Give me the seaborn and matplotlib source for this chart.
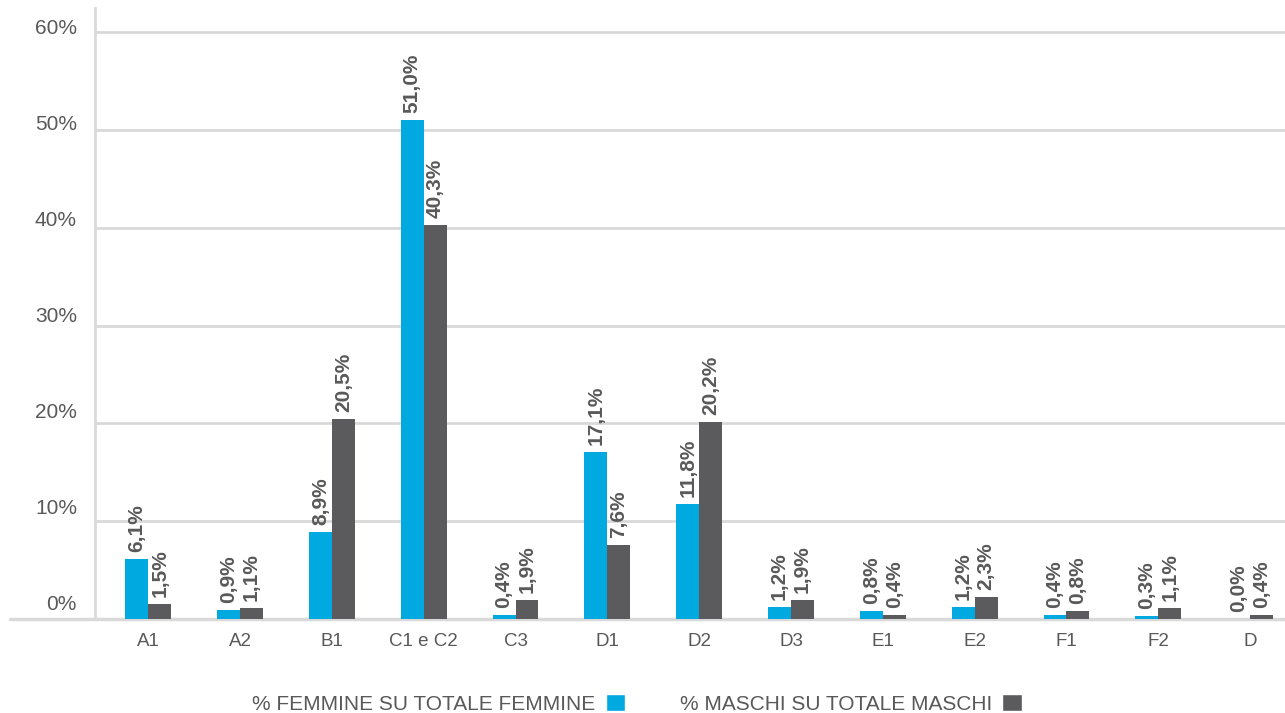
import matplotlib
matplotlib.use("Agg")
import matplotlib.pyplot as plt
import matplotlib.transforms as mtransforms
import seaborn as sns
import pandas as pd
from matplotlib.patches import Patch

categories = ["A1", "A2", "B1", "C1 e C2", "C3", "D1", "D2", "D3", "E1", "E2", "F1", "F2", "D"]
femmine = [6.1, 0.9, 8.9, 51.0, 0.4, 17.1, 11.8, 1.2, 0.8, 1.2, 0.4, 0.3, 0.0]
maschi = [1.5, 1.1, 20.5, 40.3, 1.9, 7.6, 20.2, 1.9, 0.4, 2.3, 0.8, 1.1, 0.4]
series_names = ["% FEMMINE SU TOTALE FEMMINE", "% MASCHI SU TOTALE MASCHI"]
y_ticks = [0, 10, 20, 30, 40, 50, 60]

BLUE = "#00A9E0"
GREY = "#5B5B5E"
TEXT = "#595959"
GRID = "#D9D9D9"

sns.set_theme(style="white")
plt.rcParams["font.family"] = ["Liberation Sans", "DejaVu Sans"]

df = pd.DataFrame({
    "cat": categories * 2,
    "val": femmine + maschi,
    "serie": [series_names[0]] * len(categories) + [series_names[1]] * len(categories),
})

fig = plt.figure(figsize=(12.85, 7.13), dpi=100)
ax = fig.add_axes([95 / 1285, 94 / 713, 1 - 95 / 1285, 611 / 713])

sns.barplot(data=df, x="cat", y="val", hue="serie", order=categories,
            hue_order=series_names, palette=[BLUE, GREY], width=0.5,
            saturation=1, legend=False, ax=ax, errorbar=None, linewidth=0)

for cont in ax.containers:
    labels = [f"{v:.1f}%".replace(".", ",") for v in cont.datavalues]
    ax.bar_label(cont, labels=labels, rotation=90, padding=5,
                 fontsize=15, fontweight="bold", color=TEXT)

ax.set_ylim(0, 62.5)
ax.set_xlim(-0.58, len(categories) - 0.62)
ax.set_yticks(y_ticks)
ax.set_yticklabels([f"{t}%" for t in y_ticks])
ax.yaxis.grid(True, color=GRID, linewidth=2)
ax.set_axisbelow(True)
ax.tick_params(axis="y", length=0, pad=13, labelsize=15, labelcolor=TEXT)
ax.tick_params(axis="x", length=0, pad=10, labelsize=13.5, labelcolor=TEXT)
for i, lbl in enumerate(ax.get_yticklabels()):
    shift = (16 - 1.6 * i) / 100
    lbl.set_transform(lbl.get_transform() + mtransforms.ScaledTranslation(0, shift, fig.dpi_scale_trans))
ax.set_xlabel("")
ax.set_ylabel("")
for s in ["top", "right", "bottom"]:
    ax.spines[s].set_visible(False)
ax.spines["left"].set_color(GRID)
ax.spines["left"].set_linewidth(2)
ax.axhline(0, xmin=-85 / 1190, xmax=1, color=GRID, linewidth=2.5, clip_on=False, zorder=0)

handles = [Patch(facecolor=BLUE), Patch(facecolor=GREY)]
fig.legend(handles, series_names, loc="center", bbox_to_anchor=(637 / 1285, 1 - 704 / 713),
           ncol=2, frameon=False, markerfirst=False, fontsize=15, labelcolor=TEXT,
           handlelength=0.95, handleheight=0.9, handletextpad=0.5, columnspacing=2.6)

fig.savefig("out.png", dpi=100)
